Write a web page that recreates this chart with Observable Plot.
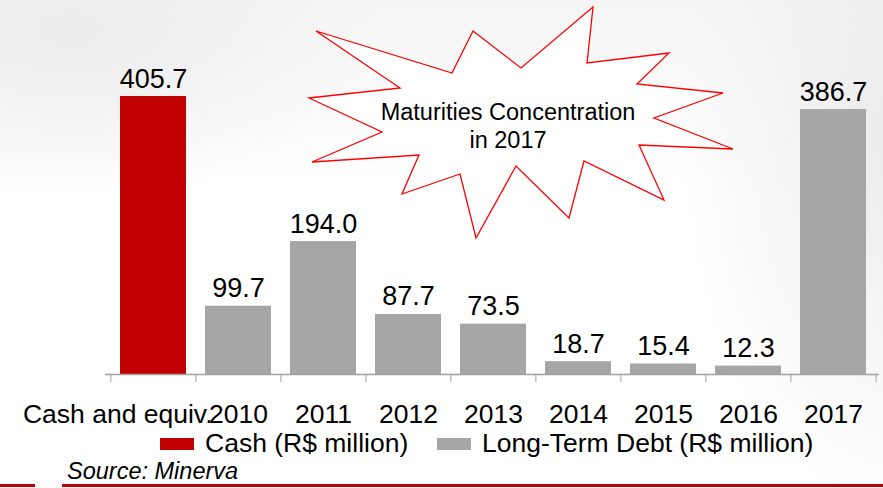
<!DOCTYPE html>
<html>
<head>
<meta charset="utf-8">
<script src="https://cdn.jsdelivr.net/npm/d3@7"></script>
<script src="https://cdn.jsdelivr.net/npm/@observablehq/plot@0.6"></script>
<style>
  html, body { margin: 0; padding: 0; }
  body { font-family: "Liberation Sans", Arial, sans-serif; }
  #wrap {
    position: relative; width: 883px; height: 488px; overflow: hidden;
    background:
      radial-gradient(ellipse 320px 170px at 70px 30px, #ececec, rgba(255,255,255,0) 100%),
      radial-gradient(ellipse 220px 380px at 900px 140px, #ebebeb, rgba(255,255,255,0) 100%),
      linear-gradient(to bottom, #f5f5f5 0px, #ffffff 190px);
  }
  #chart { position: absolute; left: 0; top: 0; }
  .leg { position: absolute; top: 429px; font-size: 26.5px; color: #000; white-space: nowrap; }
  .sw { position: absolute; top: 9px; width: 34px; height: 12px; }
  .lt { position: absolute; left: 45px; top: -1px; }
  #source { position: absolute; left: 67px; top: 458px; font-size: 23.5px; font-style: italic; color: #000; }
  .redline { position: absolute; height: 3px; background: #c00000; top: 484px; }
</style>
</head>
<body>
<div id="wrap">
  <div id="chart"></div>
  <div id="legend"></div>
  <div id="source">Source: Minerva</div>
  <div class="redline" style="left:0;width:35px"></div>
  <div class="redline" style="left:62px;width:821px"></div>
</div>
<script>
// ---- data ----
const categories = ["Cash and equiv.", "2010", "2011", "2012", "2013", "2014", "2015", "2016", "2017"];
const values = [405.7, 99.7, 194.0, 87.7, 73.5, 18.7, 15.4, 12.3, 386.7];
const series = ["Cash", "Long-Term Debt", "Long-Term Debt", "Long-Term Debt", "Long-Term Debt",
                "Long-Term Debt", "Long-Term Debt", "Long-Term Debt", "Long-Term Debt"];
const seriesNames = ["Cash", "Long-Term Debt"];
const seriesLabels = ["Cash (R$ million)", "Long-Term Debt (R$ million)"];
const seriesColors = ["#c00000", "#a6a6a6"];
const calloutLines = ["Maturities Concentration", "in 2017"];
// callout starburst outline (annotation shape, pixel coordinates)
const starburst = [[316,31],[452,73],[473,31],[521,68],[593,7],[587,63],[669,53],[637,84],[723,93],
  [654,118],[733,149],[639,145],[664,200],[584,161],[569,218],[516,166],[476,238],[460,174],
  [402,194],[419,155],[312,162],[382,132],[309,98],[400,88]];

const data = categories.map((c, i) => ({category: c, value: values[i], series: series[i]}));

const W = 883, H = 430, mL = 110, mR = 6, mT = 96, mB = 56;
const step = (W - mL - mR) / categories.length;
const fmt = d3.format(".1f");

const plot = Plot.plot({
  width: W, height: H,
  marginLeft: mL, marginRight: mR, marginTop: mT, marginBottom: mB,
  style: {background: "transparent", fontFamily: "'Liberation Sans', Arial, sans-serif", overflow: "visible"},
  x: {domain: categories, padding: 0.22, paddingOuter: 0.11, axis: null},
  y: {domain: [0, d3.max(values)], axis: null},
  color: {domain: seriesNames, range: seriesColors},
  marks: [
    Plot.barY(data, {x: "category", y: "value", fill: "series"}),
    Plot.ruleY([0], {stroke: "#a0a0a0", strokeWidth: 1.5, insetLeft: -5, insetRight: -2}),
    Plot.ruleX(categories, {x: d => d, dx: -step / 2, insetTop: H - mT - mB, insetBottom: -8, stroke: "#a0a0a0"}),
    Plot.ruleX(categories.slice(-1), {x: d => d, dx: step / 2, insetTop: H - mT - mB, insetBottom: -8, stroke: "#a0a0a0"}),
    Plot.text(data, {x: "category", y: "value", text: d => fmt(d.value), dy: -9, lineAnchor: "bottom",
      fontSize: 27, fill: "#000"}),
    Plot.text(categories.slice(0, 1), {x: d => d, frameAnchor: "bottom", dy: 48, dx: 59, lineAnchor: "bottom",
      textAnchor: "end", fontSize: 26.5, fill: "#000"}),
    Plot.text(categories.slice(1), {x: d => d, frameAnchor: "bottom", dy: 48, lineAnchor: "bottom",
      fontSize: 26.5, fill: "#000"})
  ]
});
document.getElementById("chart").appendChild(plot);

// callout
const svg = d3.select(plot);
const g = svg.append("g");
g.append("polygon")
  .attr("points", starburst.map(p => p.join(",")).join(" "))
  .attr("fill", "#ffffff").attr("stroke", "#ff0000").attr("stroke-width", 1.3)
  .attr("stroke-linejoin", "miter");
g.append("text")
  .attr("x", 508).attr("y", 120)
  .attr("text-anchor", "middle").attr("font-size", 23.5).attr("fill", "#000")
  .selectAll("tspan").data(calloutLines).join("tspan")
  .attr("x", 508).attr("dy", (d, i) => i === 0 ? 0 : 28).text(d => d);

// legend
const legend = document.getElementById("legend");
const legendLeft = [160, 437];
seriesLabels.forEach((lab, i) => {
  const item = document.createElement("div");
  item.className = "leg";
  item.style.left = legendLeft[i] + "px";
  item.innerHTML = `<div class="sw" style="background:${seriesColors[i]}"></div><span class="lt">${lab}</span>`;
  legend.appendChild(item);
});
</script>
</body>
</html>
